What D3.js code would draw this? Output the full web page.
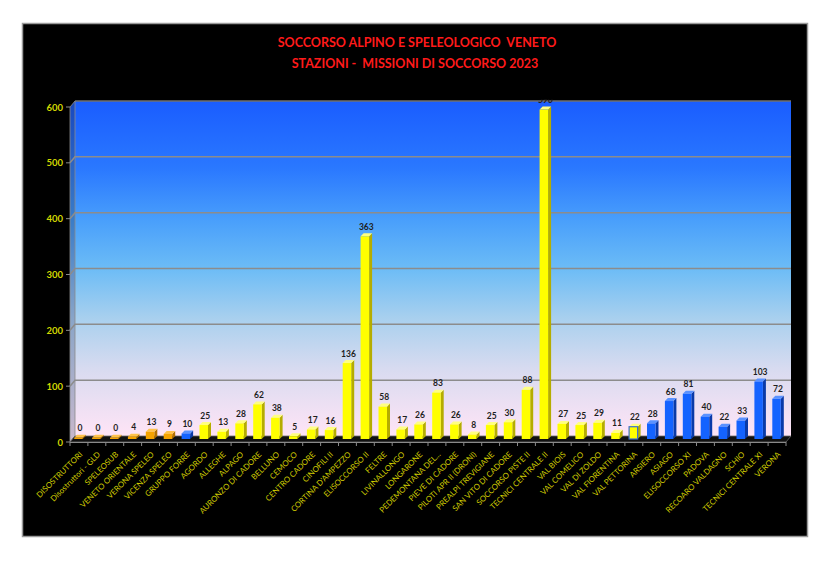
<!DOCTYPE html>
<html><head><meta charset="utf-8">
<script src="https://cdn.jsdelivr.net/npm/d3@7"></script>
<style>body{margin:0;background:#fff;}svg{display:block;} text.title{white-space:pre;}</style>
</head><body>
<svg id="chart" width="837" height="570"></svg>
<script>
const categories = ["DISOSTRUTTORI","Disostruttori - GLD","SPELEOSUB","VENETO ORIENTALE","VERONA SPELEO","VICENZA SPELEO","GRUPPO FORRE","AGORDO","ALLEGHE","ALPAGO","AURONZO DI CADORE","BELLUNO","CEMOCO","CENTRO CADORE","CINOFILI II","CORTINA D'AMPEZZO","ELISOCCORSO II","FELTRE","LIVINALLONGO","LONGARONE","PEDEMONTANA DEL...","PIEVE DI CADORE","PILOTI APR II (DRONI)","PREALPI TREVIGIANE","SAN VITO DI CADORE","SOCCORSO PISTE II","TECNICI CENTRALE II","VAL BIOIS","VAL COMELICO","VAL DI ZOLDO","VAL FIORENTINA","VAL PETTORINA","ARSIERO","ASIAGO","ELISOCCORSO XI","PADOVA","RECOARO VALDAGNO","SCHIO","TECNICI CENTRALE XI","VERONA"];
const values = [0,0,0,4,13,9,10,25,13,28,62,38,5,17,16,136,363,58,17,26,83,26,8,25,30,88,590,27,25,29,11,22,28,68,81,40,22,33,103,72];
const groups = ["speleo","speleo","speleo","speleo","speleo","speleo","forre","II","II","II","II","II","II","II","II","II","II","II","II","II","II","II","II","II","II","II","II","II","II","II","II","IIb","XI","XI","XI","XI","XI","XI","XI","XI"];
const yTicks = [0,100,200,300,400,500,600];
const titleLines = ["SOCCORSO ALPINO E SPELEOLOGICO  VENETO","STAZIONI -  MISSIONI DI SOCCORSO 2023"];

const palette = {
  speleo:{front:"#f5a200",side:"#b26f00",top:"#ffc24a",stroke:"none"},
  forre:{front:"#1463ff",side:"#0a3aa8",top:"#5a92ff",stroke:"none"},
  II:{front:"#ffff00",side:"#b5ad00",top:"#ffff80",stroke:"none"},
  IIb:{front:"#ffff00",side:"#b5ad00",top:"#ffff80",stroke:"#3a6fd0"},
  XI:{front:"#1463ff",side:"#0a3aa8",top:"#5a92ff",stroke:"none"}
};

const svg = d3.select("#chart");
svg.append("rect").attr("x",22.5).attr("y",23.5).attr("width",785).attr("height",513)
  .attr("fill","#000").attr("stroke","#9a9a9a").attr("stroke-width",1.5);

svg.selectAll("text.title").data(titleLines).join("text")
  .attr("class","title")
  .attr("xml:space","preserve")
  .attr("x",(d,i)=> i===0?417:415).attr("y",(d,i)=>47+i*21)
  .attr("text-anchor","middle")
  .attr("font-family","Lato, 'Open Sans', sans-serif").attr("font-weight","bold")
  .attr("font-size",12.5).attr("fill","#ff1a1a")
  .text(d=>d);

const dx = 5, dy = -6;
const xFront0 = 70, xFront1 = 786;
const yBack = d3.scaleLinear().domain([0,600]).range([436,101]);
const x = d3.scaleBand().domain(categories).range([xFront0,xFront1]).paddingInner(0).paddingOuter(0);

const defs = svg.append("defs");
const g1 = defs.append("linearGradient").attr("id","wall").attr("x1",0).attr("y1",0).attr("x2",0).attr("y2",1);
[[0,"#1a5dff"],[0.2,"#2a78ff"],[0.36,"#4aa0fb"],[0.5,"#6cbcf6"],[0.65,"#a9d0ee"],[0.8,"#d8dbf0"],[1,"#ffe4f6"]]
  .forEach(([o,c])=>g1.append("stop").attr("offset",o).attr("stop-color",c));
const g2 = defs.append("linearGradient").attr("id","side").attr("x1",0).attr("y1",0).attr("x2",0).attr("y2",1);
[[0,"#1848c0"],[0.35,"#3a7cc8"],[0.65,"#8ca6c8"],[1,"#c9b8cc"]]
  .forEach(([o,c])=>g2.append("stop").attr("offset",o).attr("stop-color",c));
defs.append("clipPath").attr("id","plotclip").append("rect")
  .attr("x",0).attr("y",99.5).attr("width",837).attr("height",400);

const xb0 = xFront0+dx, xb1 = xFront1+dx;
svg.append("rect").attr("x",xb0).attr("y",yBack(600)).attr("width",xb1-xb0).attr("height",yBack(0)-yBack(600))
  .attr("fill","url(#wall)");
svg.append("line").attr("x1",xb0).attr("x2",xb1).attr("y1",yBack(600)).attr("y2",yBack(600))
  .attr("stroke","#707070").attr("stroke-width",1.5);
svg.append("path").attr("d",`M${xFront0},${yBack(600)-dy} L${xb0},${yBack(600)} L${xb0},${yBack(0)} L${xFront0},${yBack(0)-dy} Z`)
  .attr("fill","url(#side)").attr("stroke","#8a8a8a").attr("stroke-width",0.8);

yTicks.filter(t=>t>0 && t<600).forEach(t=>{
  const yy = yBack(t);
  svg.append("path").attr("d",`M${xFront0},${yy-dy} L${xb0},${yy} L${xb1},${yy}`)
    .attr("fill","none").attr("stroke","#8c8c8c").attr("stroke-width",1.5);
});

svg.append("path").attr("d",`M${xb0},${yBack(0)} L${xb1},${yBack(0)} L${xFront1},${yBack(0)-dy} L${xFront0},${yBack(0)-dy} Z`)
  .attr("fill","#111").attr("stroke","#6a6a6a").attr("stroke-width",0.8);
svg.append("line").attr("x1",xFront0).attr("x2",xFront1).attr("y1",yBack(0)-dy+0.5).attr("y2",yBack(0)-dy+0.5)
  .attr("stroke","#8a8a8a").attr("stroke-width",1.2);
svg.selectAll("line.xt").data(categories.concat(["__end"])).join("line")
  .attr("class","xt")
  .attr("x1",(d,i)=>xFront0+i*x.step()).attr("x2",(d,i)=>xFront0+i*x.step())
  .attr("y1",yBack(0)-dy).attr("y2",yBack(0)-dy+4)
  .attr("stroke","#8a8a8a").attr("stroke-width",1);

yTicks.forEach(t=>{
  const yy = yBack(t)-dy;
  svg.append("line").attr("x1",xFront0-4).attr("x2",xFront0).attr("y1",yy).attr("y2",yy)
    .attr("stroke","#8a8a8a").attr("stroke-width",1);
  svg.append("text").attr("x",xFront0-7).attr("y",yy+3.5).attr("text-anchor","end")
    .attr("font-family","Lato, sans-serif").attr("font-weight","bold").attr("font-size",9.5)
    .attr("fill","#d2d800").text(t);
});

const bw = 8.5, bd = 3;
const bars = svg.append("g");
const labels = svg.append("g").attr("clip-path","url(#plotclip)");
categories.forEach((c,i)=>{
  const v = values[i];
  const col = palette[groups[i]];
  const cx = x(c)+x.step()/2 + 1;
  const xl = cx - bw/2 - bd/2, xr = xl + bw;
  const yb = yBack(0) - dy/2;
  const yt = yBack(v) - dy/2;
  const h = Math.max(yb-yt, 1.2);
  const ytop = yb - h;
  bars.append("path").attr("d",`M${xr},${yb} L${xr+bd},${yb-bd} L${xr+bd},${ytop-bd} L${xr},${ytop} Z`)
    .attr("fill",col.side);
  bars.append("path").attr("d",`M${xl},${ytop} L${xl+bd},${ytop-bd} L${xr+bd},${ytop-bd} L${xr},${ytop} Z`)
    .attr("fill",col.top);
  bars.append("rect").attr("x",xl).attr("y",ytop).attr("width",bw).attr("height",h)
    .attr("fill",col.front).attr("stroke",col.stroke).attr("stroke-width",col.stroke==="none"?0:1.2);
  labels.append("text").attr("x",cx).attr("y",ytop-bd-3.5).attr("text-anchor","middle")
    .attr("font-family","Lato, sans-serif").attr("font-weight","bold").attr("font-size",8.5)
    .attr("fill","#1e1e1e").text(v);
});

svg.selectAll("text.xl").data(categories).join("text")
  .attr("class","xl")
  .attr("transform",(d)=>`translate(${x(d)+x.step()/2+4},${yBack(0)-dy+13}) rotate(-45)`)
  .attr("text-anchor","end")
  .attr("font-family","Lato, sans-serif").attr("font-size",7.9)
  .attr("fill","#d0cc00")
  .text(d=>d);
</script>
</body></html>
